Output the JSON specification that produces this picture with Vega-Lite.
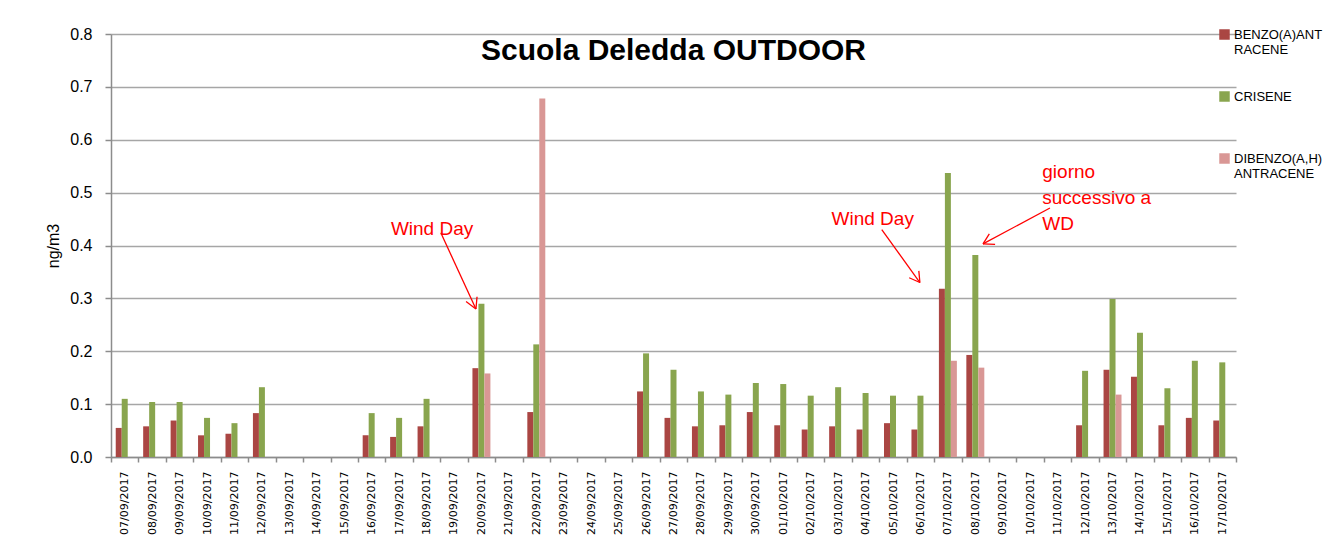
{
  "$schema": "https://vega.github.io/schema/vega-lite/v6.json",
  "autosize": {"type": "none"},
  "width": 1125,
  "height": 423,
  "padding": {"left": 111, "top": 34, "right": 89, "bottom": 101},
  "background": "white",
  "config": {"font": "Liberation Sans", "view": {"stroke": null}},
  "title": {"text": "Scuola Deledda OUTDOOR", "font": "Liberation Sans", "fontSize": 30, "fontWeight": "bold", "color": "#000000", "anchor": "middle", "frame": "group", "offset": 0, "dy": 64, "baseline": "alphabetic"},
  "datasets": {
    "bars": [
      {"d": "07/09/2017", "s": "BENZO(A)ANTRACENE", "v": 0.055}, {"d": "07/09/2017", "s": "CRISENE", "v": 0.110},
      {"d": "08/09/2017", "s": "BENZO(A)ANTRACENE", "v": 0.058}, {"d": "08/09/2017", "s": "CRISENE", "v": 0.104},
      {"d": "09/09/2017", "s": "BENZO(A)ANTRACENE", "v": 0.069}, {"d": "09/09/2017", "s": "CRISENE", "v": 0.104},
      {"d": "10/09/2017", "s": "BENZO(A)ANTRACENE", "v": 0.041}, {"d": "10/09/2017", "s": "CRISENE", "v": 0.074},
      {"d": "11/09/2017", "s": "BENZO(A)ANTRACENE", "v": 0.044}, {"d": "11/09/2017", "s": "CRISENE", "v": 0.064},
      {"d": "12/09/2017", "s": "BENZO(A)ANTRACENE", "v": 0.083}, {"d": "12/09/2017", "s": "CRISENE", "v": 0.132},
      {"d": "16/09/2017", "s": "BENZO(A)ANTRACENE", "v": 0.041}, {"d": "16/09/2017", "s": "CRISENE", "v": 0.083},
      {"d": "17/09/2017", "s": "BENZO(A)ANTRACENE", "v": 0.038}, {"d": "17/09/2017", "s": "CRISENE", "v": 0.074},
      {"d": "18/09/2017", "s": "BENZO(A)ANTRACENE", "v": 0.058}, {"d": "18/09/2017", "s": "CRISENE", "v": 0.110},
      {"d": "20/09/2017", "s": "BENZO(A)ANTRACENE", "v": 0.168}, {"d": "20/09/2017", "s": "CRISENE", "v": 0.290}, {"d": "20/09/2017", "s": "DIBENZO(A,H)ANTRACENE", "v": 0.158},
      {"d": "22/09/2017", "s": "BENZO(A)ANTRACENE", "v": 0.085}, {"d": "22/09/2017", "s": "CRISENE", "v": 0.213}, {"d": "22/09/2017", "s": "DIBENZO(A,H)ANTRACENE", "v": 0.678},
      {"d": "26/09/2017", "s": "BENZO(A)ANTRACENE", "v": 0.124}, {"d": "26/09/2017", "s": "CRISENE", "v": 0.196},
      {"d": "27/09/2017", "s": "BENZO(A)ANTRACENE", "v": 0.074}, {"d": "27/09/2017", "s": "CRISENE", "v": 0.165},
      {"d": "28/09/2017", "s": "BENZO(A)ANTRACENE", "v": 0.058}, {"d": "28/09/2017", "s": "CRISENE", "v": 0.124},
      {"d": "29/09/2017", "s": "BENZO(A)ANTRACENE", "v": 0.060}, {"d": "29/09/2017", "s": "CRISENE", "v": 0.118},
      {"d": "30/09/2017", "s": "BENZO(A)ANTRACENE", "v": 0.085}, {"d": "30/09/2017", "s": "CRISENE", "v": 0.140},
      {"d": "01/10/2017", "s": "BENZO(A)ANTRACENE", "v": 0.060}, {"d": "01/10/2017", "s": "CRISENE", "v": 0.138},
      {"d": "02/10/2017", "s": "BENZO(A)ANTRACENE", "v": 0.052}, {"d": "02/10/2017", "s": "CRISENE", "v": 0.116},
      {"d": "03/10/2017", "s": "BENZO(A)ANTRACENE", "v": 0.058}, {"d": "03/10/2017", "s": "CRISENE", "v": 0.132},
      {"d": "04/10/2017", "s": "BENZO(A)ANTRACENE", "v": 0.052}, {"d": "04/10/2017", "s": "CRISENE", "v": 0.121},
      {"d": "05/10/2017", "s": "BENZO(A)ANTRACENE", "v": 0.064}, {"d": "05/10/2017", "s": "CRISENE", "v": 0.116},
      {"d": "06/10/2017", "s": "BENZO(A)ANTRACENE", "v": 0.052}, {"d": "06/10/2017", "s": "CRISENE", "v": 0.116},
      {"d": "07/10/2017", "s": "BENZO(A)ANTRACENE", "v": 0.318}, {"d": "07/10/2017", "s": "CRISENE", "v": 0.537}, {"d": "07/10/2017", "s": "DIBENZO(A,H)ANTRACENE", "v": 0.182},
      {"d": "08/10/2017", "s": "BENZO(A)ANTRACENE", "v": 0.193}, {"d": "08/10/2017", "s": "CRISENE", "v": 0.382}, {"d": "08/10/2017", "s": "DIBENZO(A,H)ANTRACENE", "v": 0.169},
      {"d": "12/10/2017", "s": "BENZO(A)ANTRACENE", "v": 0.060}, {"d": "12/10/2017", "s": "CRISENE", "v": 0.163},
      {"d": "13/10/2017", "s": "BENZO(A)ANTRACENE", "v": 0.165}, {"d": "13/10/2017", "s": "CRISENE", "v": 0.299}, {"d": "13/10/2017", "s": "DIBENZO(A,H)ANTRACENE", "v": 0.118},
      {"d": "14/10/2017", "s": "BENZO(A)ANTRACENE", "v": 0.152}, {"d": "14/10/2017", "s": "CRISENE", "v": 0.235},
      {"d": "15/10/2017", "s": "BENZO(A)ANTRACENE", "v": 0.060}, {"d": "15/10/2017", "s": "CRISENE", "v": 0.130},
      {"d": "16/10/2017", "s": "BENZO(A)ANTRACENE", "v": 0.074}, {"d": "16/10/2017", "s": "CRISENE", "v": 0.182},
      {"d": "17/10/2017", "s": "BENZO(A)ANTRACENE", "v": 0.069}, {"d": "17/10/2017", "s": "CRISENE", "v": 0.179}
    ],
    "notes": [
      {"xi": 10.20, "v": 0.420, "t": "Wind Day"},
      {"xi": 26.26, "v": 0.439, "t": "Wind Day"},
      {"xi": 33.94, "v": 0.527, "t": "giorno"},
      {"xi": 33.94, "v": 0.479, "t": "successivo a"},
      {"xi": 33.94, "v": 0.430, "t": "WD"}
    ],
    "arrows": [
      {"x1": 12.02, "y1": 0.424, "x2": 13.30, "y2": 0.280},
      {"x1": 13.30, "y1": 0.280, "x2": 13.34, "y2": 0.303},
      {"x1": 13.30, "y1": 0.280, "x2": 12.94, "y2": 0.294},
      {"x1": 28.09, "y1": 0.430, "x2": 29.48, "y2": 0.330},
      {"x1": 29.48, "y1": 0.330, "x2": 29.44, "y2": 0.352},
      {"x1": 29.48, "y1": 0.330, "x2": 29.09, "y2": 0.339},
      {"x1": 34.22, "y1": 0.471, "x2": 31.78, "y2": 0.403},
      {"x1": 31.78, "y1": 0.403, "x2": 32.22, "y2": 0.402},
      {"x1": 31.78, "y1": 0.403, "x2": 32.01, "y2": 0.422}
    ]
  },
  "layer": [
    {
      "data": {"name": "bars"},
      "mark": {"type": "bar"},
      "encoding": {
        "x": {
          "field": "d", "type": "nominal", "sort": null,
          "scale": {"domain": ["07/09/2017","08/09/2017","09/09/2017","10/09/2017","11/09/2017","12/09/2017","13/09/2017","14/09/2017","15/09/2017","16/09/2017","17/09/2017","18/09/2017","19/09/2017","20/09/2017","21/09/2017","22/09/2017","23/09/2017","24/09/2017","25/09/2017","26/09/2017","27/09/2017","28/09/2017","29/09/2017","30/09/2017","01/10/2017","02/10/2017","03/10/2017","04/10/2017","05/10/2017","06/10/2017","07/10/2017","08/10/2017","09/10/2017","10/10/2017","11/10/2017","12/10/2017","13/10/2017","14/10/2017","15/10/2017","16/10/2017","17/10/2017"], "paddingInner": 0, "paddingOuter": 0},
          "axis": {"title": null, "labelAngle": -90, "labelFont": "DejaVu Sans", "labelFontSize": 11, "labelColor": "#000000", "tickBand": "extent", "tickSize": 5, "tickColor": "#8c8c8c", "tickWidth": 1.5, "labelPadding": 9, "domainColor": "#8c8c8c", "domainWidth": 1.5, "grid": false}
        },
        "xOffset": {
          "field": "s", "type": "nominal",
          "scale": {"domain": ["BENZO(A)ANTRACENE", "CRISENE", "DIBENZO(A,H)ANTRACENE"], "paddingInner": 0, "paddingOuter": 0.79}
        },
        "y": {
          "field": "v", "type": "quantitative",
          "scale": {"domain": [0, 0.8], "nice": false},
          "axis": {"title": "ng/m3", "titleFont": "Liberation Sans", "titleFontSize": 16, "titleFontWeight": "normal", "titleColor": "#000000", "titlePadding": 8, "values": [0, 0.1, 0.2, 0.3, 0.4, 0.5, 0.6, 0.7, 0.8], "format": ".1f", "labelFont": "Liberation Sans", "labelFontSize": 16, "labelColor": "#000000", "labelPadding": 13, "tickSize": 6, "tickColor": "#8c8c8c", "tickWidth": 1.5, "domainColor": "#8c8c8c", "domainWidth": 1.5, "grid": true, "gridColor": "#a6a6a6", "gridWidth": 1.5}
        },
        "color": {
          "field": "s", "type": "nominal",
          "scale": {"domain": ["BENZO(A)ANTRACENE", "CRISENE", "DIBENZO(A,H)ANTRACENE"], "range": ["#AA4643", "#89A54E", "#D99795"]},
          "legend": {"title": null, "orient": "none", "legendX": 1107, "legendY": -6, "symbolType": "square", "symbolSize": 110, "symbolStrokeWidth": 0, "labelFont": "Liberation Sans", "labelFontSize": 13, "labelColor": "#000000", "labelLimit": 200, "labelOffset": 3, "rowPadding": 33,
            "labelExpr": "datum.label == 'BENZO(A)ANTRACENE' ? ['BENZO(A)ANT','RACENE'] : datum.label == 'CRISENE' ? ['CRISENE',' '] : ['DIBENZO(A,H)','ANTRACENE']"}
        }
      }
    },
    {
      "data": {"name": "notes"},
      "mark": {"type": "text", "align": "left", "baseline": "alphabetic", "color": "#FF0000", "font": "Liberation Sans", "fontSize": 19},
      "encoding": {
        "x": {"field": "xi", "type": "quantitative", "scale": {"domain": [0, 41], "nice": false, "zero": false}, "axis": null},
        "y": {"field": "v", "type": "quantitative"},
        "text": {"field": "t"}
      }
    },
    {
      "data": {"name": "arrows"},
      "mark": {"type": "rule", "color": "#FF0000", "strokeWidth": 1.3},
      "encoding": {
        "x": {"field": "x1", "type": "quantitative", "scale": {"domain": [0, 41], "nice": false, "zero": false}, "axis": null},
        "x2": {"field": "x2"},
        "y": {"field": "y1", "type": "quantitative"},
        "y2": {"field": "y2"}
      }
    }
  ],
  "resolve": {"scale": {"x": "independent"}}
}
